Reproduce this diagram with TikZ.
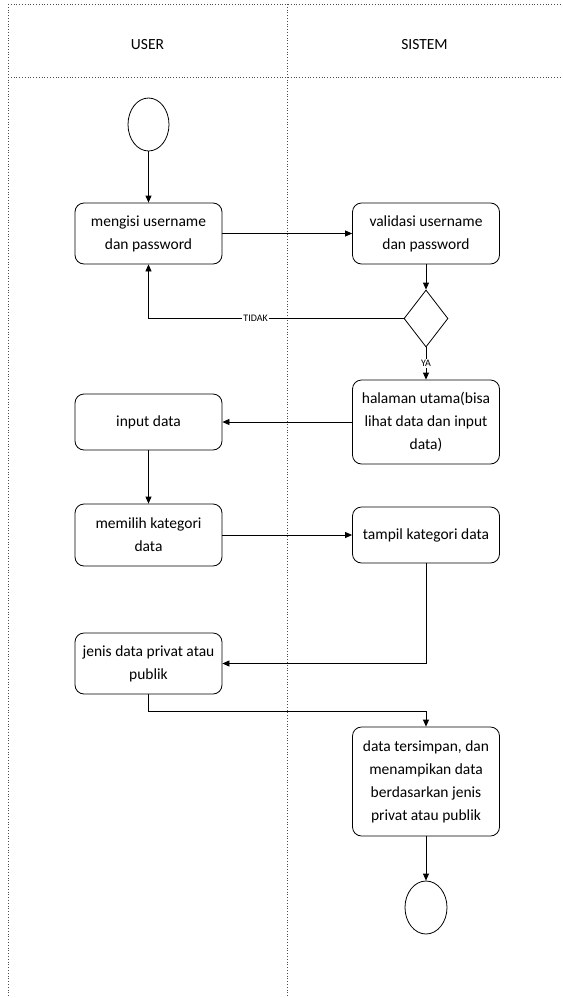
\documentclass[tikz,border=0pt]{standalone}
\usepackage{fontspec}
\setmainfont{Carlito}
\usetikzlibrary{arrows.meta,shapes.geometric}
\begin{document}
\begin{tikzpicture}[x=1pt,y=-1pt,
  act/.style={draw, rounded corners=9pt, minimum width=147pt, minimum height=61pt, align=center, font=\fontsize{15.5}{23}\selectfont, line width=0.8pt, inner sep=2pt},
  terminal/.style={draw, ellipse, minimum width=41pt, minimum height=53pt, line width=0.8pt, inner sep=0pt},
  dec/.style={draw, diamond, minimum width=44pt, minimum height=57pt, line width=0.8pt, inner sep=0pt},
  arr/.style={-{Triangle[length=7pt,width=6pt]}, line width=0.8pt},
  lane/.style={dotted, line width=0.8pt, black!70},
  lbl/.style={font=\fontsize{10}{11}\selectfont, fill=white, inner sep=1pt},
  hdr/.style={font=\fontsize{15.5}{18}\selectfont}]
\useasboundingbox (0,0) rectangle (562,998);
% swimlanes
\draw[lane] (8,4) -- (562,4);
\draw[lane] (8,77) -- (562,77);
\draw[lane] (8,4) -- (8,998);
\draw[lane] (287,4) -- (287,998);
\node[hdr] (huser) at (147.5,45) {USER};
\node[hdr] (hsis) at (424.5,45) {SISTEM};
% nodes
\node[terminal] (start) at (148.5,124.5) {};
\node[act] (n1) at (148.5,233.5) {mengisi username\\dan password};
\node[act] (n2) at (426,233.5) {validasi username\\dan password};
\node[dec] (d) at (426,318.5) {};
\node[act, minimum height=84pt] (n3) at (426,422) {halaman utama(bisa\\lihat data dan input\\data)};
\node[act, minimum height=56pt] (n4) at (148.5,422) {input data};
\node[act, minimum height=62pt] (n5) at (148.5,535) {memilih kategori\\data};
\node[act, minimum height=56pt] (n6) at (426,535) {tampil kategori data};
\node[act] (n7) at (148.5,663.5) {jenis data privat atau\\publik};
\node[act, minimum height=109pt] (n8) at (426,781.5) {data tersimpan, dan\\menampikan data\\berdasarkan jenis\\privat atau publik};
\node[terminal, minimum width=42pt] (end) at (426,907.5) {};
% connectors
\draw[arr] (start) -- (n1);
\draw[arr] (n1.east) -- (n2.west);
\draw[arr] (n2) -- (d);
\draw[arr] (d.west) -- node[lbl, pos=0.58] {TIDAK} (n1.south |- d.west) -- (n1.south);
\draw[arr] (d.south) -- node[lbl] {YA} (n3.north);
\draw[arr] (n3.west) -- (n4.east);
\draw[arr] (n4) -- (n5);
\draw[arr] (n5.east) -- (n6.west);
\draw[arr] (n6.south) -- (n6.south |- n7.east) -- (n7.east);
\draw[arr] (n7.south) -- ++(0,17) -| (n8.north);
\draw[arr] (n8) -- (end);
\end{tikzpicture}
\end{document}
